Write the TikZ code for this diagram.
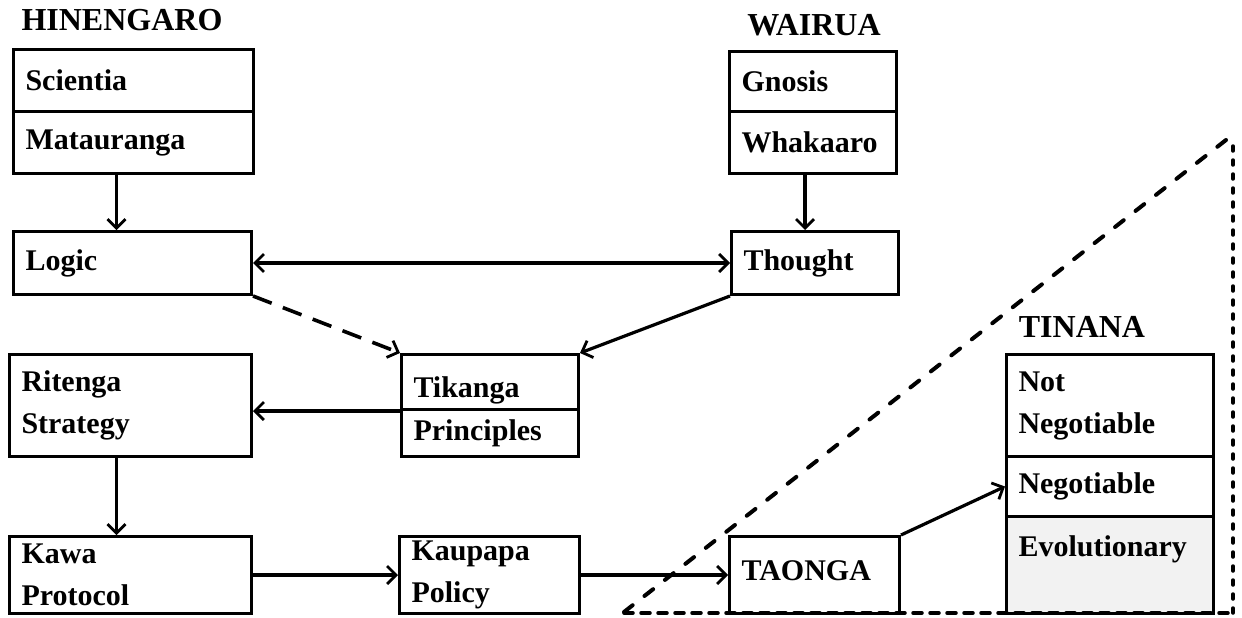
\documentclass[tikz,border=0pt]{standalone}
\usepackage{fontspec}
\setmainfont{Liberation Serif}
\usetikzlibrary{arrows.meta}
\tikzset{
  cell/.style={draw, line width=3pt, anchor=north west, align=left,
    inner xsep=12pt, inner ysep=0pt, font=\fontsize{30}{42}\selectfont\bfseries},
  head/.style={anchor=base, font=\fontsize{32}{36}\selectfont\bfseries},
  pfeil/.style={line width=3.2pt},
  strich/.style={line width=3.6pt, dash pattern=on 20pt off 12pt},
  rand/.style={line width=4pt, line cap=round}
}
\begin{document}
\begin{tikzpicture}[x=1pt,y=-1pt,>={Straight Barb[length=9pt,width=18pt,line width=2.8pt]}]
\useasboundingbox (0,0) rectangle (1242,618);
%%Hinengaro
\node[head] (hinengaro) at (122,31) {HINENGARO};
\node[cell, text width=216pt, minimum height=62pt] (scientia) at (12,48) {Scientia};
\node[cell, text width=216pt, minimum height=62pt] (matauranga) at (12,110) {Matauranga};
\node[cell, text width=214pt, minimum height=63pt] (logic) at (12,230) {Logic};
%%Wairua
\node[head] (wairua) at (814,36) {WAIRUA};
\node[cell, text width=143pt, minimum height=60pt] (gnosis) at (728,50) {Gnosis};
\node[cell, text width=143pt, minimum height=62pt] (whakaaro) at (728,110) {Whakaaro};
\node[cell, text width=143pt, minimum height=63pt] (thought) at (730,230) {Thought};
%%Mitte
\node[cell, text width=218pt, minimum height=102pt] (ritenga) at (8,353) {Ritenga\\Strategy};
\node[cell, text width=153pt, minimum height=55pt, text height=36pt, text depth=6pt] (tikanga) at (400,353) {Tikanga};
\node[cell, text width=153pt, minimum height=47pt] (principles) at (400,408) {Principles};
\node[cell, text width=218pt, minimum height=77pt] (kawa) at (8,535) {Kawa\\Protocol};
\node[cell, text width=156pt, minimum height=77pt] (kaupapa) at (398,535) {Kaupapa\\Policy};
\node[cell, text width=146pt, minimum height=77pt, text depth=8pt] (taonga) at (728,535) {TAONGA};
%%Tinana
\node[head] (tinana) at (1082,337) {TINANA};
\node[cell, text width=183pt, minimum height=102pt] (notneg) at (1005,353) {Not\\Negotiable};
\node[cell, text width=183pt, minimum height=60pt] (neg) at (1005,455) {Negotiable};
\node[cell, text width=183pt, minimum height=97pt, text depth=38pt, fill=gray!10] (evol) at (1005,515) {Evolutionary};
%%Pfeile
\coordinate (m1) at ([xshift=-17pt]matauranga.south);
\coordinate (w1) at ([xshift=-8pt]whakaaro.south);
\coordinate (r1) at ([xshift=-14pt]ritenga.south);
\draw[pfeil,->] (m1) -- (m1 |- logic.north);
\draw[pfeil,->] (w1) -- (w1 |- thought.north);
\draw[pfeil,<->] (logic.east) -- (thought.west);
\draw[strich,->] (logic.south east) -- (tikanga.north west);
\draw[pfeil,->] (thought.south west) -- (tikanga.north east);
\draw[pfeil,->] (tikanga.south west) -- (tikanga.south west -| ritenga.east);
\draw[pfeil,->] (r1) -- (r1 |- kawa.north);
\draw[pfeil,->] (kawa.east) -- (kaupapa.west);
\draw[pfeil,->] (kaupapa.east) -- (taonga.west);
\draw[pfeil,->] (taonga.north east) -- (neg.west);
%%Dreieck
\coordinate (ecke1) at (624,612);
\coordinate (ecke2) at (1226,140);
\coordinate (ecke3) at (1233,146);
\coordinate (ecke4) at (1233,613);
\draw[rand, dash pattern=on 11pt off 15pt] (ecke1) -- (ecke2);
\draw[rand, line width=3.5pt, dash pattern=on 5pt off 9pt] (ecke3) -- (ecke4);
\draw[rand, line width=3.5pt, dash pattern=on 9pt off 8pt] (ecke1 |- ecke4) -- (ecke4);
\end{tikzpicture}
\end{document}
